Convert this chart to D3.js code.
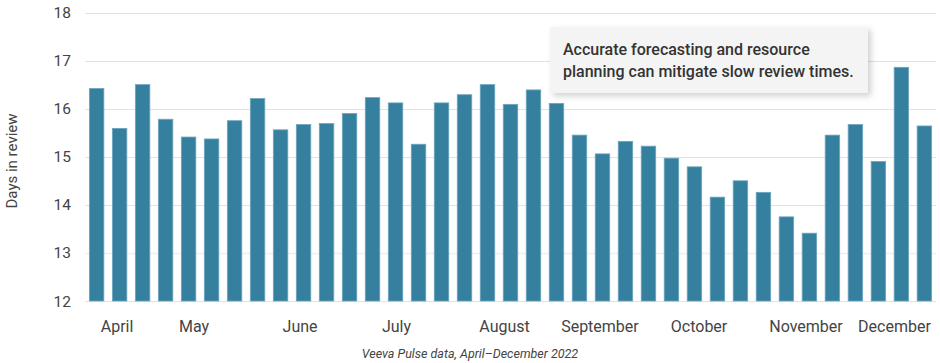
<!DOCTYPE html>
<html>
<head>
    <title>Days in review</title>
    <script src="https://d3js.org/d3.v7.min.js"></script>
    <style>
        body { margin: 0; background: #fff; }
        text { font-family: Roboto, "Noto Sans", sans-serif; }
    </style>
</head>
<body>
    <svg width="940" height="363"></svg>
    <script>
        // weekly values, April to December 2022
        const weeks = d3.range(37);
        const values = [16.42, 15.59, 16.50, 15.78, 15.41, 15.37, 15.75, 16.21, 15.56, 15.67,
                        15.69, 15.90, 16.23, 16.12, 15.26, 16.12, 16.29, 16.50, 16.09, 16.39,
                        16.11, 15.45, 15.06, 15.32, 15.22, 14.97, 14.79, 14.16, 14.50, 14.26,
                        13.75, 13.41, 15.45, 15.67, 14.90, 16.86, 15.64];
        const yTicks = [12, 13, 14, 15, 16, 17, 18];
        const months = ["April", "May", "June", "July", "August", "September", "October", "November", "December"];
        const monthWeek = [0.89, 4.24, 8.85, 13.04, 17.74, 21.89, 26.2, 30.85, 34.7]; // week under each label
        const note = ["Accurate forecasting and resource", "planning can mitigate slow review times."];
        const source = "Veeva Pulse data, April\u2013December 2022";

        const svg = d3.select("svg");
        const plot = { left: 85, right: 936, top: 12.5, bottom: 301 };

        const x = d3.scaleBand()
                    .domain(weeks)
                    .range([plot.left, plot.right])
                    .paddingInner(0.37)
                    .paddingOuter(0.19);

        const y = d3.scaleLinear()
                    .domain([12, 18])
                    .range([plot.bottom, plot.top]);

        // fractional week position -> pixel centre
        const xc = w => x(0) + x.bandwidth() / 2 + w * x.step();

        // gridlines
        svg.append("g")
           .selectAll("line")
           .data(yTicks)
           .enter().append("line")
           .attr("x1", plot.left)
           .attr("x2", plot.right)
           .attr("y1", d => Math.round(y(d)) + 0.5)
           .attr("y2", d => Math.round(y(d)) + 0.5)
           .attr("stroke", d => d === 13 ? "#efefef" : "#e2e2e2")
           .attr("stroke-width", d => d === 13 ? 1.5 : 1);

        svg.append("g")
           .selectAll("text")
           .data(yTicks)
           .enter().append("text")
           .attr("x", 71)
           .attr("y", d => y(d))
           .attr("dy", "0.36em")
           .attr("text-anchor", "end")
           .attr("font-size", "15.5px")
           .attr("fill", "#444")
           .text(d => d);

        // bars
        svg.append("g")
           .selectAll("rect")
           .data(values)
           .enter().append("rect")
           .attr("x", (d, i) => x(i))
           .attr("y", d => y(d))
           .attr("width", x.bandwidth())
           .attr("height", d => y(12) - y(d))
           .attr("fill", "#357f9f")
           .attr("stroke", "#6ea5bf")
           .attr("stroke-width", 0.8);

        // month labels
        svg.append("g")
           .selectAll("text")
           .data(months)
           .enter().append("text")
           .attr("x", (d, i) => xc(monthWeek[i]))
           .attr("y", 332)
           .attr("text-anchor", "middle")
           .attr("font-size", "16px")
           .attr("fill", "#444")
           .text(d => d);

        // axis title
        svg.append("text")
           .attr("transform", "translate(17,161) rotate(-90)")
           .attr("text-anchor", "middle")
           .attr("font-size", "15px")
           .attr("fill", "#444")
           .text("Days in review");

        // source
        svg.append("text")
           .attr("x", 470)
           .attr("y", 358)
           .attr("text-anchor", "middle")
           .attr("font-size", "12.5px")
           .attr("font-style", "italic")
           .attr("fill", "#444")
           .text(source);

        // annotation box
        const defs = svg.append("defs");
        defs.append("filter")
            .attr("id", "shadow")
            .attr("x", "-10%").attr("y", "-20%")
            .attr("width", "130%").attr("height", "160%")
            .append("feDropShadow")
            .attr("dx", 3).attr("dy", 3)
            .attr("stdDeviation", 3)
            .attr("flood-color", "#000")
            .attr("flood-opacity", 0.18);

        svg.append("rect")
           .attr("x", 550)
           .attr("y", 27)
           .attr("width", 318)
           .attr("height", 66)
           .attr("fill", "#f4f4f4")
           .attr("filter", "url(#shadow)");

        svg.append("g")
           .selectAll("text")
           .data(note)
           .enter().append("text")
           .attr("x", 563)
           .attr("y", (d, i) => 55 + i * 22)
           .attr("font-size", "16px")
           .attr("font-weight", 500)
           .attr("fill", "#333")
           .text(d => d);
    </script>
</body>
</html>
